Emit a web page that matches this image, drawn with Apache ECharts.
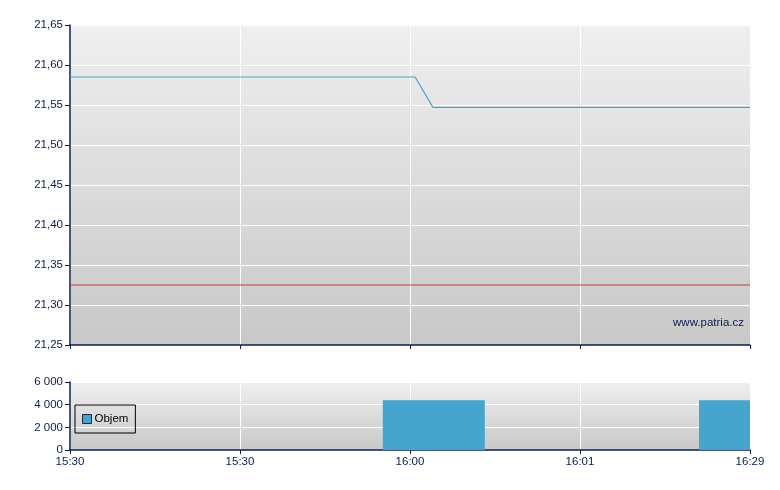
<!DOCTYPE html>
<html><head><meta charset="utf-8">
<script src="https://cdn.jsdelivr.net/npm/echarts@6/dist/echarts.min.js"></script>
<style>html,body{margin:0;padding:0;background:#fff}#c{width:780px;height:490px}</style>
</head><body><div id="c"></div>
<script>
const xLabels = ['15:30', '15:30', '16:00', '16:01', '16:29'];
const priceX = [0, 2.03, 2.135, 4];
const priceY = [21.585, 21.585, 21.547, 21.547];
const refPrice = 21.325;
const volX = [2.14, 4];
const volY = [4400, 4400];
const volWidth = 0.6;

const navy = '#0b1d51';
const font = 'Liberation Sans, Arial, sans-serif';
const bg = (a, b) => new echarts.graphic.LinearGradient(0, 0, 0, 1, [{offset: 0, color: a}, {offset: 1, color: b}]);

const chart = echarts.init(document.getElementById('c'), null, {renderer: 'canvas'});
const xAxisBase = {
  type: 'value', min: 0, max: 4, interval: 1,
  axisLine: {show: true, lineStyle: {color: navy, width: 1.5}},
  axisTick: {show: true, length: 4, lineStyle: {color: navy}},
  splitLine: {show: true, lineStyle: {color: '#ffffff', width: 1}},
};
const yAxisBase = {
  axisLine: {show: true, lineStyle: {color: navy, width: 1.5}},
  axisTick: {show: true, length: 5, lineStyle: {color: navy}},
  splitLine: {show: true, lineStyle: {color: '#ffffff', width: 1}},
  axisLabel: {color: navy, fontFamily: font, fontSize: 11.5, margin: 7},
};
chart.setOption({
  animation: false,
  grid: [
    {left: 70, right: 30, top: 25, height: 320, show: true, borderWidth: 0, backgroundColor: bg('#efefef', '#c8c8c8')},
    {left: 70, right: 30, top: 382, height: 68, show: true, borderWidth: 0, backgroundColor: bg('#efefef', '#c8c8c8')}
  ],
  xAxis: [
    Object.assign({}, xAxisBase, {gridIndex: 0, axisLabel: {show: false}}),
    Object.assign({}, xAxisBase, {gridIndex: 1, axisLabel: {show: true, color: navy, fontFamily: font, fontSize: 11.5, margin: 6,
      formatter: v => xLabels[Math.round(v)] || ''}})
  ],
  yAxis: [
    Object.assign({}, yAxisBase, {gridIndex: 0, type: 'value', min: 21.25, max: 21.65, interval: 0.05,
      axisLabel: Object.assign({}, yAxisBase.axisLabel, {formatter: v => v.toFixed(2).replace('.', ',')})}),
    Object.assign({}, yAxisBase, {gridIndex: 1, type: 'value', min: 0, max: 6000, interval: 2000,
      axisLabel: Object.assign({}, yAxisBase.axisLabel, {formatter: v => v >= 1000 ? Math.floor(v / 1000) + ' ' + String(v % 1000).padStart(3, '0') : String(v)})})
  ],
  legend: {
    show: true, left: 75, top: 405, orient: 'vertical',
    data: [{name: 'Objem', icon: 'rect', itemStyle: {color: '#45a5cd', borderColor: '#1a2a44', borderWidth: 1}}],
    itemWidth: 9, itemHeight: 9, itemGap: 0,
    padding: [8, 7, 8, 7],
    borderColor: '#000', borderWidth: 1, backgroundColor: 'transparent',
    textStyle: {color: '#000', fontFamily: font, fontSize: 11.5, padding: [0, 0, 0, -2]}
  },
  graphic: [{
    type: 'text', right: 36, top: 317, silent: true,
    style: {text: 'www.patria.cz', fill: navy, font: '11.5px ' + font}
  }],
  series: [
    {
      name: 'Cena', type: 'line', xAxisIndex: 0, yAxisIndex: 0,
      data: priceX.map((x, i) => [x, priceY[i]]),
      showSymbol: false, symbol: 'none',
      lineStyle: {color: '#4aa3cf', width: 1.2}
    },
    {
      name: 'Ref', type: 'line', xAxisIndex: 0, yAxisIndex: 0,
      data: [[0, refPrice], [4, refPrice]],
      showSymbol: false, symbol: 'none', silent: true,
      lineStyle: {color: '#c83a3a', width: 1}
    },
    {
      name: 'Objem', type: 'custom', xAxisIndex: 1, yAxisIndex: 1,
      data: volX.map((x, i) => [x, volY[i]]),
      itemStyle: {color: '#45a5cd'},
      renderItem: function (params, api) {
        const x = api.value(0), y = api.value(1);
        const p0 = api.coord([x - volWidth / 2, y]);
        const p1 = api.coord([x + volWidth / 2, 0]);
        const rect = echarts.graphic.clipRectByRect(
          {x: p0[0], y: p0[1], width: p1[0] - p0[0], height: p1[1] - p0[1]},
          {x: params.coordSys.x, y: params.coordSys.y, width: params.coordSys.width, height: params.coordSys.height});
        return rect && {type: 'rect', shape: rect, style: {fill: '#45a5cd'}};
      }
    }
  ]
});
</script></body></html>
